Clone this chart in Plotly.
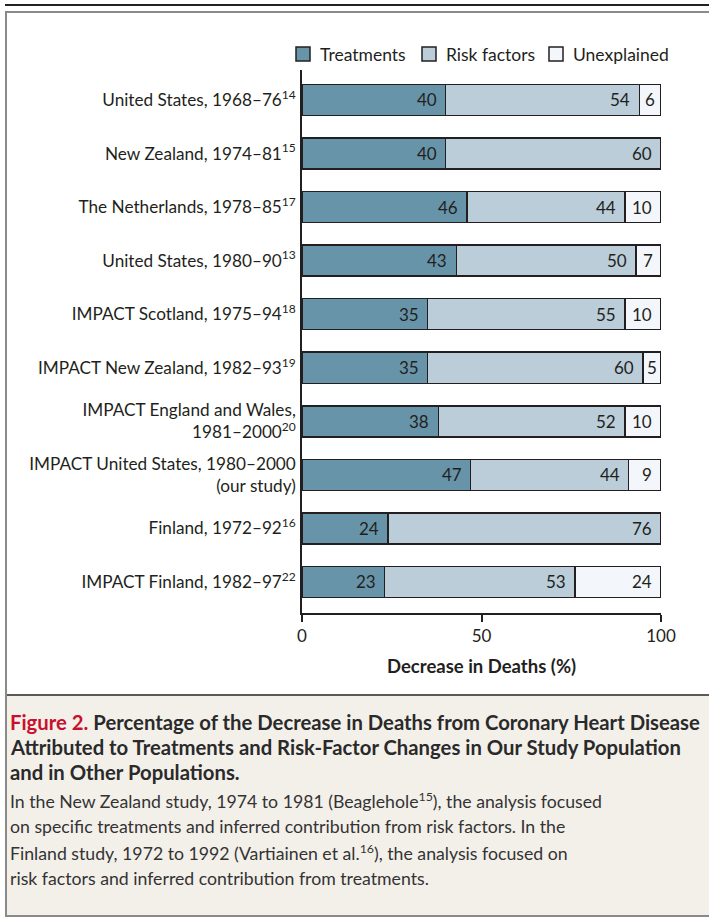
import plotly.graph_objects as go

categories = [
    "United States, 1968–76<sup>14</sup>",
    "New Zealand, 1974–81<sup>15</sup>",
    "The Netherlands, 1978–85<sup>17</sup>",
    "United States, 1980–90<sup>13</sup>",
    "IMPACT Scotland, 1975–94<sup>18</sup>",
    "IMPACT New Zealand, 1982–93<sup>19</sup>",
    "IMPACT England and Wales,<br>1981–2000<sup>20</sup>",
    "IMPACT United States, 1980–2000<br>(our study)",
    "Finland, 1972–92<sup>16</sup>",
    "IMPACT Finland, 1982–97<sup>22</sup>",
]
treatments = [40, 40, 46, 43, 35, 35, 38, 47, 24, 23]
risk_factors = [54, 60, 44, 50, 55, 60, 52, 44, 76, 53]
unexplained = [6, 0, 10, 7, 10, 5, 10, 9, 0, 24]
series_names = ["Treatments", "Risk factors", "Unexplained"]
x_ticks = [0, 50, 100]

W, H = 709, 918
L, R, T, B = 302, 661, 70, 613
FONT = "Lato"
DARK = "#231f20"
colors = ["#6794a9", "#bacdd9", "#f3f6fa"]

def px(x):
    return (x - L) / (R - L)

def py(y):
    return (B - y) / (B - T)

fig = go.Figure()
series = [treatments, risk_factors, unexplained]
for name, vals, col in zip(series_names, series, colors):
    fig.add_trace(go.Bar(
        y=categories, x=vals, name=name, orientation="h",
        marker=dict(color=col, line=dict(color=DARK, width=1.5)),
        width=0.58, hoverinfo="skip", showlegend=False,
    ))

annotations = []
for i, cat in enumerate(categories):
    cum = 0
    for vals in series:
        v = vals[i]
        cum += v
        if v > 0:
            if v < 9:
                annotations.append(dict(
                    x=cum - v / 2, y=cat, xref="x", yref="y", text=str(v), showarrow=False,
                    xanchor="center", yanchor="middle",
                    font=dict(family=FONT, size=17, color=DARK),
                ))
            else:
                annotations.append(dict(
                    x=cum, y=cat, xref="x", yref="y", text=str(v), showarrow=False,
                    xanchor="right", yanchor="middle", xshift=-7,
                    font=dict(family=FONT, size=17, color=DARK),
                ))

# manual legend
legend_shapes = []
legend_sq_x = [296, 422, 549]
for name, col, sx in zip(series_names, colors, legend_sq_x):
    legend_shapes.append(dict(type="rect", xref="paper", yref="paper",
                              x0=px(sx), x1=px(sx + 14), y0=py(61), y1=py(47),
                              fillcolor=col, line=dict(color=DARK, width=1.5)))
    annotations.append(dict(x=px(sx + 22), y=py(54), xref="paper", yref="paper",
                            text=name, showarrow=False, xanchor="left", yanchor="middle",
                            font=dict(family=FONT, size=17.5, color=DARK)))

# axis title
annotations.append(dict(x=px(481), y=py(666), xref="paper", yref="paper",
                        text="<b>Decrease in Deaths (%)</b>", showarrow=False,
                        xanchor="center", yanchor="middle",
                        font=dict(family=FONT, size=18.5, color=DARK)))

cap_title = [
    "<span style='color:#c8102e'>Figure 2.</span> Percentage of the Decrease in Deaths from Coronary Heart Disease",
    "Attributed to Treatments and Risk-Factor Changes in Our Study Population",
    "and in Other Populations.",
]
cap_body = [
    "In the New Zealand study, 1974 to 1981 (Beaglehole<sup>15</sup>), the analysis focused",
    "on specific treatments and inferred contribution from risk factors. In the",
    "Finland study, 1972 to 1992 (Vartiainen et al.<sup>16</sup>), the analysis focused on",
    "risk factors and inferred contribution from treatments.",
]
for k, line in enumerate(cap_title):
    annotations.append(dict(x=px(8), y=py(722 + 25 * k), xref="paper", yref="paper",
                            text="<b>" + line + "</b>", showarrow=False,
                            xanchor="left", yanchor="middle",
                            font=dict(family=FONT, size=20.3, color="#2a2a2a")))
for k, line in enumerate(cap_body):
    annotations.append(dict(x=px(8), y=py(800 + 26.3 * k), xref="paper", yref="paper",
                            text=line, showarrow=False,
                            xanchor="left", yanchor="middle",
                            font=dict(family=FONT, size=17.7, color="#333333")))

shapes = [
    dict(type="rect", xref="paper", yref="paper", x0=px(6), x1=px(715), y0=py(695), y1=py(916),
         fillcolor="#f3f0ea", line=dict(width=0), layer="below"),
    dict(type="line", xref="paper", yref="paper", x0=px(6), x1=px(715), y0=py(695), y1=py(695),
         line=dict(color="#5a5a5a", width=2)),
    dict(type="rect", xref="paper", yref="paper", x0=px(6), x1=px(715), y0=py(12), y1=py(916),
         line=dict(color="#8a8a8a", width=2)),
    dict(type="line", xref="paper", yref="paper", x0=px(5), x1=px(715), y0=py(5), y1=py(5),
         line=dict(color="#222222", width=2)),
] + legend_shapes

fig.update_layout(
    width=W, height=H,
    margin=dict(l=L, r=W - R, t=T, b=H - B, pad=0),
    barmode="stack",
    paper_bgcolor="white", plot_bgcolor="white",
    font=dict(family=FONT, size=17, color=DARK),
    showlegend=False,
    xaxis=dict(range=[0, 100], tickvals=x_ticks, ticks="outside", ticklen=7, tickwidth=1.5,
               tickcolor=DARK, showline=True, linecolor=DARK, linewidth=1.5, showgrid=False,
               zeroline=False, tickfont=dict(family=FONT, size=17, color=DARK), fixedrange=True),
    yaxis=dict(categoryorder="array", categoryarray=categories, range=[9.58, -0.56],
               showline=True, linecolor=DARK, linewidth=1.5, ticks="", showgrid=False,
               zeroline=False, tickfont=dict(family=FONT, size=17.2, color=DARK),
               ticklabelstandoff=1, fixedrange=True),
    annotations=annotations, shapes=shapes,
)

fig.write_html("out.html", config={"displayModeBar": False},
               post_script="document.body.style.margin='0';document.body.style.overflow='hidden';")
